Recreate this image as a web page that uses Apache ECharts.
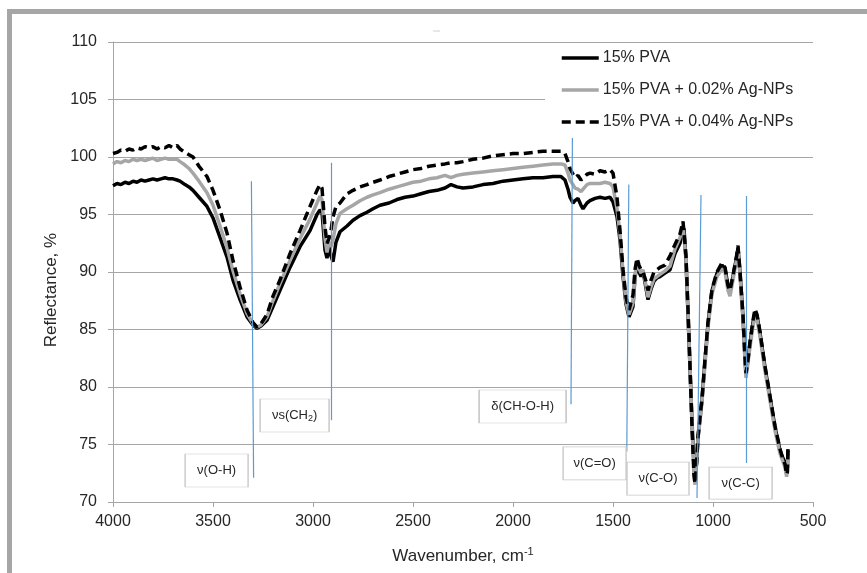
<!DOCTYPE html>
<html>
<head>
<meta charset="utf-8">
<script src="https://cdn.jsdelivr.net/npm/echarts@6/dist/echarts.min.js"></script>
<style>
html,body{margin:0;padding:0;background:#fff;}
#chart{width:867px;height:573px;}
</style>
</head>
<body>
<div id="chart"></div>
<script>
// Wavenumber (cm-1) sample positions
const wavenumber = [4000,3980,3960,3940,3920,3900,3880,3860,3840,3820,3800,3780,3760,3740,3720,3700,3680,3665,3640,3620,3600,3570,3530,3500,3465,3430,3400,3365,3330,3300,3280,3260,3230,3200,3165,3115,3065,3015,2980,2965,2955,2940,2930,2920,2910,2900,2885,2865,2830,2800,2765,2730,2700,2665,2620,2580,2540,2500,2460,2420,2380,2340,2310,2280,2250,2200,2150,2100,2050,2000,1950,1900,1850,1800,1760,1740,1725,1715,1700,1690,1675,1660,1650,1630,1615,1590,1565,1540,1515,1500,1480,1465,1450,1435,1420,1410,1400,1390,1380,1370,1360,1350,1335,1325,1310,1295,1280,1265,1240,1215,1190,1165,1150,1145,1135,1120,1105,1095,1090,1082,1075,1055,1040,1025,1005,980,955,940,925,915,900,880,875,865,850,840,835,825,815,800,790,780,765,740,715,690,665,650,640,632,628,625];

// 15% PVA
const pva = [97.5,97.7,97.6,97.8,97.7,97.9,97.8,98.0,97.9,98.0,98.1,98.0,98.1,98.2,98.1,98.1,98.0,97.9,97.6,97.4,97.1,96.5,95.7,94.7,93.0,91.3,89.3,87.6,86.1,85.4,85.1,85.3,85.8,87.0,88.4,90.4,92.2,93.6,95.0,95.4,95.2,91.9,91.2,92.3,91.4,90.9,92.6,93.5,94.0,94.5,94.9,95.2,95.5,95.8,96.0,96.3,96.5,96.6,96.8,97.0,97.1,97.3,97.6,97.4,97.3,97.4,97.6,97.7,97.9,98.0,98.1,98.2,98.2,98.3,98.3,98.0,97.2,96.5,96.0,96.2,96.4,95.8,95.5,96.0,96.2,96.4,96.5,96.4,96.5,96.1,94.8,92.8,89.6,87.2,86.1,86.0,87.0,89.5,90.8,90.0,89.6,90.1,88.6,87.6,88.5,89.2,89.5,89.6,89.9,90.2,91.6,92.5,93.6,93.8,91.0,84.0,77.0,73.0,71.8,73.5,75.6,78.9,82.3,85.5,88.4,89.9,90.6,90.3,88.8,88.3,89.6,91.5,92.1,90.0,86.1,82.5,81.1,82.4,83.8,85.6,86.5,86.2,84.7,81.7,79.1,76.5,74.5,73.8,73.4,72.5,73.0,74.6];

// 15% PVA + 0.02% Ag-NPs
const pva002 = [99.4,99.6,99.5,99.7,99.6,99.8,99.7,99.8,99.7,99.8,99.9,99.7,99.8,99.9,99.8,99.8,99.8,99.6,99.3,99.0,98.6,97.9,96.9,95.8,94.0,92.1,90.1,88.1,86.4,85.5,85.2,85.4,86.1,87.5,89.0,91.0,92.9,94.6,96.0,96.6,96.3,92.9,91.7,92.6,92.2,92.8,94.2,95.1,95.5,95.8,96.2,96.5,96.7,96.9,97.2,97.4,97.6,97.8,97.9,98.1,98.2,98.4,98.2,98.4,98.5,98.6,98.7,98.8,98.9,99.0,99.1,99.2,99.3,99.4,99.4,99.3,98.6,98.0,97.6,97.3,97.2,97.0,97.1,97.6,97.7,97.7,97.7,97.8,97.7,97.4,95.5,93.3,90.0,87.4,86.3,86.2,87.3,89.7,91.0,90.3,89.9,90.2,88.8,87.8,88.7,89.4,89.6,89.8,90.1,90.5,92.0,93.0,94.0,94.1,91.2,84.2,76.8,72.6,71.5,73.6,75.5,78.7,82.0,85.2,88.1,89.6,90.3,90.0,88.4,87.9,89.3,91.3,91.8,89.7,85.8,82.2,80.8,82.1,83.5,85.3,86.2,85.9,84.4,81.4,78.8,76.2,74.2,73.5,73.0,72.2,72.8,74.0];

// 15% PVA + 0.04% Ag-NPs
const pva004 = [100.3,100.4,100.6,100.5,100.7,100.6,100.8,100.7,100.9,100.8,100.9,100.7,100.9,100.8,101.0,100.8,101.0,100.7,100.4,100.2,100.0,99.2,98.3,97.1,95.4,93.4,91.0,88.7,86.7,85.6,85.2,85.5,86.3,87.9,89.3,91.6,93.6,95.7,97.1,97.6,97.3,93.9,92.5,92.9,93.6,94.8,95.7,96.0,96.8,97.1,97.4,97.6,97.8,98.0,98.3,98.5,98.7,98.9,99.0,99.2,99.3,99.4,99.5,99.5,99.6,99.8,99.9,100.1,100.2,100.3,100.3,100.4,100.5,100.5,100.5,100.3,99.6,99.0,98.5,98.2,98.4,98.0,97.9,98.5,98.6,98.5,98.8,98.7,98.9,98.6,96.5,93.6,90.2,87.8,86.7,86.8,88.0,90.2,91.2,90.6,90.2,90.0,89.2,88.4,89.3,90.0,90.2,90.4,90.6,91.4,92.4,93.3,94.4,94.5,91.4,84.4,76.5,72.3,71.6,73.4,75.7,79.0,82.4,85.6,88.5,90.0,90.8,90.4,88.8,88.4,89.7,91.6,92.3,90.0,86.2,82.6,81.2,82.4,83.9,85.8,86.8,86.3,84.8,81.8,79.2,76.6,74.6,73.7,73.3,72.4,72.6,74.8];

const seriesNames = ['15% PVA', '15% PVA + 0.02% Ag-NPs', '15% PVA + 0.04% Ag-NPs'];

// Band assignments: label, line top [wavenumber, %], line bottom [wavenumber, %], label anchor [wavenumber, %]
const bandLabels = ['ν(O-H)', 'νs(CH{sub|2})', 'δ(CH-O-H)', 'ν(C=O)', 'ν(C-O)', 'ν(C-C)'];
const bandLineTop = [[3308,97.9],[2910,99.5],[1703,101.65],[1421,97.6],[1060,96.7],[833,96.6]];
const bandLineBottom = [[3297,72.1],[2910,77.1],[1710,78.5],[1431,74.4],[1080,70.35],[833,73.4]];
const bandLabelPos = [[3482,72.74],[3092,77.52],[1952,78.3],[1592,73.35],[1275,72.04],[862,71.65]];
const bandBoxSize = [[63,33],[69,33],[87,33],[63,33],[62,33],[63,32]];

const chart = echarts.init(document.getElementById('chart'), null, {renderer:'canvas'});
const toPairs = arr => wavenumber.map((w,i)=>[w, arr[i]]);
const FONT = 'Liberation Sans';

const option = {
  animation: false,
  backgroundColor: '#fff',
  textStyle: {fontFamily: FONT},
  grid: {left:113, right:54, top:42, bottom:71, containLabel:false},
  legend: {
    data: seriesNames,
    orient: 'vertical',
    left: 545, top: 45,
    padding: [5, 30, 5, 15],
    itemGap: 16,
    itemWidth: 37, itemHeight: 14,
    backgroundColor: '#fff',
    itemStyle: {opacity: 0},
    lineStyle: {width: 3.5},
    textStyle: {fontSize:16, color:'#262626', fontFamily: FONT, padding:[0,0,0,-1]}
  },
  xAxis: {
    type:'value', inverse:true, min:500, max:4000, interval:500,
    name:'Wavenumber, cm{sup|-1}', nameLocation:'middle', nameGap:44,
    nameTextStyle:{fontSize:17, color:'#262626', fontFamily:FONT,
      rich:{sup:{fontSize:11, verticalAlign:'bottom', padding:[0,0,9,0], color:'#262626', fontFamily:FONT}}},
    axisLine:{show:true, lineStyle:{color:'#a6a6a6', width:1}},
    axisTick:{show:true, length:5, lineStyle:{color:'#a6a6a6'}},
    axisLabel:{fontSize:16, color:'#262626', margin:12, fontFamily:FONT, formatter: v => String(v)},
    splitLine:{show:false}
  },
  yAxis: {
    type:'value', min:70, max:110, interval:5,
    name:'Reflectance, %', nameLocation:'middle', nameGap:50, nameRotate:90,
    nameTextStyle:{fontSize:17, color:'#262626', fontFamily:FONT, padding:[0,36,0,0]},
    axisLine:{show:true, lineStyle:{color:'#a6a6a6', width:1}},
    axisTick:{show:true, length:5, lineStyle:{color:'#a6a6a6'}},
    axisLabel:{fontSize:16, color:'#262626', margin:16, fontFamily:FONT, formatter: v => String(v)},
    splitLine:{show:true, lineStyle:{color:'#a6a6a6', width:1}}
  },
  series: [
    {
      name: seriesNames[0], type:'line', data: toPairs(pva), symbol:'none', showSymbol:false,
      lineStyle:{color:'#000', width:3.5}, itemStyle:{color:'#000'}, z:2
    },
    {
      name: seriesNames[1], type:'line', data: toPairs(pva002), symbol:'none', showSymbol:false,
      lineStyle:{color:'#a6a6a6', width:3.5}, itemStyle:{color:'#a6a6a6'}, z:3
    },
    {
      name: seriesNames[2], type:'line', data: toPairs(pva004), symbol:'none', showSymbol:false,
      lineStyle:{color:'#000', width:3.5, type:[9,5]}, itemStyle:{color:'#000'}, z:4
    },
    {
      name:'bands', type:'line', data:[], z:5, silent:true,
      markLine:{
        silent:true, symbol:['none','none'], animation:false,
        lineStyle:{color:'#5b9bd5', width:1.2, type:'solid'},
        label:{show:false},
        emphasis:{disabled:true},
        data: bandLineTop.map((t,i)=>[{coord:t},{coord:bandLineBottom[i]}])
      },
      markPoint:{
        silent:true, animation:false,
        data: bandLabelPos.map((p,i)=>({
          coord:p, symbol:'rect', symbolSize:bandBoxSize[i],
          itemStyle:{color:'#fff', borderColor:'#c8c8c8', borderWidth:1},
          label:{show:true, position:'inside', formatter:bandLabels[i], fontSize:13, color:'#262626', fontFamily:FONT,
            rich:{sub:{fontSize:9, verticalAlign:'bottom', padding:[6,0,0,0], color:'#262626', fontFamily:FONT}}}
        }))
      }
    }
  ],
  graphic: [
    {type:'rect', shape:{x:7, y:9, width:860, height:5}, style:{fill:'#a6a6a6'}, silent:true, z:100},
    {type:'rect', shape:{x:7, y:9, width:5, height:564}, style:{fill:'#a6a6a6'}, silent:true, z:100},
    {type:'line', shape:{x1:433, y1:31, x2:440, y2:31}, style:{stroke:'#d0d0d0', lineWidth:1}, silent:true}
  ]
};
chart.setOption(option);
</script>
</body>
</html>
